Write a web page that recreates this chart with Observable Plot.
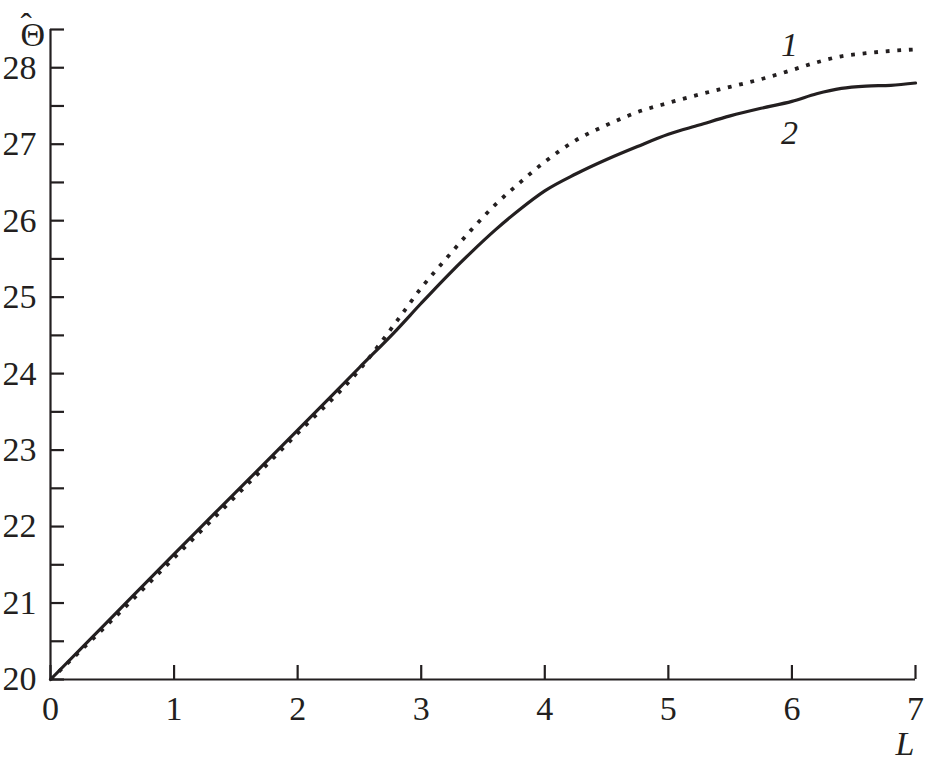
<!DOCTYPE html>
<html><head><meta charset="utf-8">
<script src="https://cdn.jsdelivr.net/npm/d3@7"></script>
<script src="https://cdn.jsdelivr.net/npm/@observablehq/plot@0.6"></script>
<style>body{margin:0;background:#fff}</style>
</head><body><div id="chart"></div>
<script>
const L      = [0, 0.5, 1, 1.5, 2, 2.5, 2.8, 3.0, 3.2, 3.4, 3.6, 3.8, 4.0, 4.25, 4.5, 4.75, 5.0, 5.25, 5.5, 5.75, 6.0, 6.2, 6.4, 6.6, 6.8, 7.0];
const theta1 = [20, 20.78, 21.59, 22.40, 23.22, 24.05, 24.68, 25.12, 25.50, 25.87, 26.21, 26.50, 26.77, 27.05, 27.25, 27.42, 27.54, 27.65, 27.75, 27.85, 27.97, 28.07, 28.15, 28.19, 28.22, 28.24];
const theta2 = [20, 20.82, 21.64, 22.45, 23.26, 24.08, 24.57, 24.92, 25.26, 25.58, 25.88, 26.15, 26.39, 26.61, 26.80, 26.97, 27.13, 27.25, 27.37, 27.47, 27.56, 27.66, 27.73, 27.76, 27.77, 27.80];
const yTicks  = [20, 20.5, 21, 21.5, 22, 22.5, 23, 23.5, 24, 24.5, 25, 25.5, 26, 26.5, 27, 27.5, 28, 28.5];
const yLabels = [20, 21, 22, 23, 24, 25, 26, 27, 28];
const xTicks  = [0, 1, 2, 3, 4, 5, 6, 7];
const curveLabels = [{L: 5.98, theta: 28.30, text: "1"}, {L: 5.98, theta: 27.14, text: "2"}];

const ink = "#231f20";
const s1 = L.map((l, i) => ({L: l, theta: theta1[i]}));
const s2 = L.map((l, i) => ({L: l, theta: theta2[i]}));

const chart = Plot.plot({
  width: 927, height: 769,
  marginLeft: 50, marginRight: 12, marginTop: 29, marginBottom: 90,
  x: {domain: [0, 7]},
  y: {domain: [20, 28.5]},
  style: {fontFamily: "'Liberation Serif', serif", fontSize: "34px", color: ink, background: "#fff"},
  marks: [
    Plot.ruleX([0], {stroke: ink, strokeWidth: 2.2}),
    Plot.ruleY([20], {stroke: ink, strokeWidth: 2.2}),
    Plot.axisY({ticks: yTicks, tickSize: -14, tickFormat: () => "", label: null, strokeWidth: 2.2, stroke: ink}),
    Plot.axisY({ticks: yLabels, tickSize: 0, tickPadding: 14, tickFormat: d => String(d), label: null, fontSize: 34, fill: ink}),
    Plot.axisX({ticks: xTicks, tickSize: -14, tickFormat: () => "", label: null, strokeWidth: 2.2, stroke: ink}),
    Plot.axisX({ticks: xTicks, tickSize: 0, tickPadding: 16, tickFormat: d => String(d), label: null, fontSize: 34, fill: ink}),
    Plot.line(s2, {x: "L", y: "theta", stroke: ink, strokeWidth: 3.2, curve: "monotone-x"}),
    Plot.line(s1, {x: "L", y: "theta", stroke: ink, strokeWidth: 3.8, strokeDasharray: "3.8 7.8", strokeLinecap: "butt", curve: "monotone-x"}),
    Plot.text(curveLabels, {x: "L", y: "theta", text: "text", fontSize: 34, fontStyle: "italic", fill: ink}),
    Plot.text(["\u0398"], {frameAnchor: "top-left", dx: -30, dy: -8, fontSize: 34, fill: ink}),
    Plot.text(["\u02C6"], {frameAnchor: "top-left", dx: -30, dy: -17, fontSize: 34, fill: ink}),
    Plot.text(["L"], {frameAnchor: "bottom-right", dx: -1, dy: 75, fontSize: 34, fontStyle: "italic", fill: ink})
  ]
});
document.getElementById("chart").appendChild(chart);
</script>
</body></html>
